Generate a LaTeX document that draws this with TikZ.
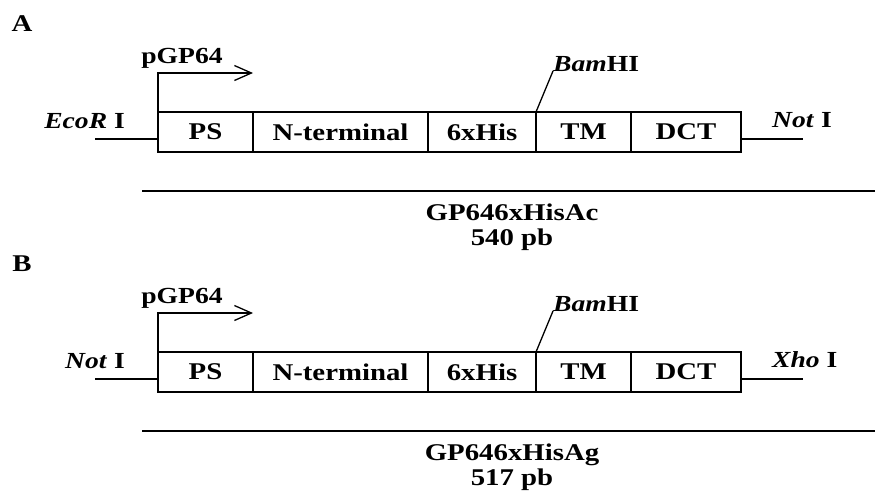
\documentclass[tikz,border=0pt]{standalone}
\usepackage{fontspec}
\setmainfont{Liberation Serif}[FakeStretch=1.2]
\usetikzlibrary{arrows.meta, positioning}

\newcommand{\lblfont}{\fontsize{24}{25}\selectfont\bfseries}
\newcommand{\sitefont}{\fontsize{23}{25}\selectfont\bfseries}

\tikzset{
  lbl/.style={font=\lblfont, inner sep=0pt},
  site/.style={font=\sitefont, inner sep=0pt},
  cell/.style={draw, line width=1.3pt, minimum height=40pt, inner sep=0pt, outer sep=0pt, font=\lblfont},
  wire/.style={line width=1.3pt},
  bar/.style={line width=2.6pt}
}

\begin{document}
\begin{tikzpicture}[x=1pt, y=-1pt, >={Straight Barb[length=17pt,width=15pt]}]
  \useasboundingbox (0,0) rectangle (875,493);

  % Panel A and panel B
  \foreach \off/\pan/\lsite/\rsite/\cons/\len in {
      0/A/{\textit{EcoR} I}/{\textit{Not} I}/GP646xHisAc/540,
      240/B/{\textit{Not} I}/{\textit{Xho} I}/GP646xHisAg/517}{

    % panel letter
    \node[lbl] (tag\pan) at (22,24+\off) {\pan};

    % gene blocks
    \node[cell, minimum width=95pt, anchor=north west] (ps\pan) at (158,112+\off) {PS};
    \node[cell, minimum width=175pt, right=0pt of ps\pan] (nt\pan) {N-terminal};
    \node[cell, minimum width=108pt, right=0pt of nt\pan] (his\pan) {6xHis};
    \node[cell, minimum width=95pt, right=0pt of his\pan] (tm\pan) {TM};
    \node[cell, minimum width=110pt, right=0pt of tm\pan] (dct\pan) {DCT};

    % flanking restriction sites
    \coordinate (l\pan) at (95,139+\off);
    \coordinate (r\pan) at (803,139+\off);
    \draw[wire] (l\pan) -- (l\pan -| ps\pan.west);
    \draw[wire] (r\pan -| dct\pan.east) -- (r\pan);
    \node[site, anchor=base east] (ls\pan) at (125,128+\off) {\lsite};
    \node[site, anchor=base west] (rs\pan) at (772,127+\off) {\rsite};

    % promoter
    \coordinate (tss\pan) at (253,73+\off);
    \draw[wire, ->] (ps\pan.north west) |- (tss\pan);
    \node[site, anchor=base] (pro\pan) at (182,63+\off) {pGP64};

    % BamHI site
    \node[site, anchor=base west] (bam\pan) at (553,71+\off) {\textit{Bam}HI};
    \draw[wire] (tm\pan.north west) -- (bam\pan.base west);

    % construct size
    \coordinate (bs\pan) at (142,191+\off);
    \coordinate (be\pan) at (875,191+\off);
    \draw[bar] (bs\pan) -- (be\pan);
    \node[lbl, align=center] (cons\pan) at (512,227+\off) {\cons\\\len\ pb};
  }
\end{tikzpicture}
\end{document}
